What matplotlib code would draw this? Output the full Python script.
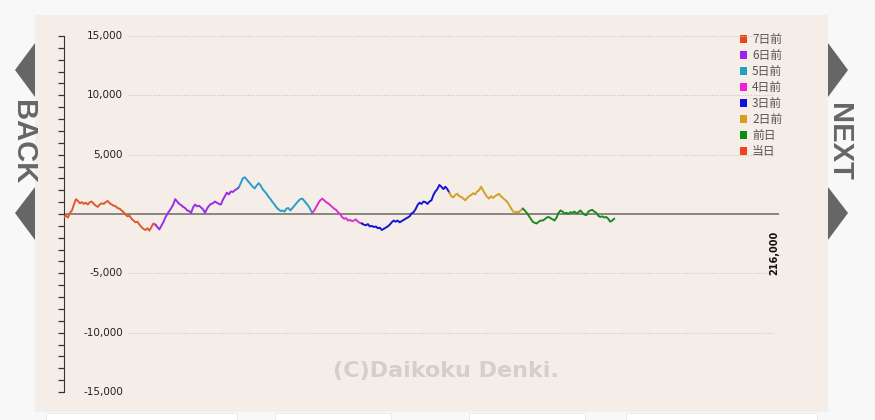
import numpy as np
import matplotlib.pyplot as plt
from matplotlib.patches import Polygon, Rectangle
from matplotlib.transforms import blended_transform_factory

# coin difference, sampled every 600 games (each day starts where the previous ends)
day_labels = ['7日前', '6日前', '5日前', '4日前', '3日前', '2日前', '前日', '当日']
day_colors = ['#e2582c', '#9a2ee6', '#2a9ec4', '#e02ccc', '#1414d2', '#d2a022', '#1c8a22', '#e8401c']
legend_colors = ['#ec4418', '#a020f0', '#20a0c8', '#f020d8', '#1010e0', '#d8a018', '#108a10', '#f04418']

coins_7 = [-250, -150, -300, 100, 300, 800, 1250, 1100, 900, 1000, 850, 950, 800, 1000, 1050, 850,
           700, 600, 800, 900, 850, 1000, 1100, 900, 800, 700, 650, 500, 450, 300, 150, -50, -200,
           -150, -400, -550, -700, -650, -900, -1100, -1250, -1350, -1200, -1400, -1100, -800, -900]
coins_6 = [-900, -1100, -1300, -1000, -700, -300, 0, 250, 500, 800, 1250, 1050, 850, 750, 600, 500,
           300, 250, 100, 550, 800, 650, 700, 550, 400, 100, 450, 700, 850, 900, 1050, 950, 850, 800,
           1200, 1500, 1800, 1650, 1900, 1850, 2000, 2100, 2250]
coins_5 = [2250, 2600, 3000, 3100, 2900, 2700, 2500, 2300, 2150, 2400, 2600, 2400, 2100, 1900, 1700,
           1450, 1250, 1000, 800, 550, 400, 250, 300, 200, 450, 500, 300, 500, 700, 900, 1100, 1250,
           1300, 1100, 900, 700, 400, 100]
coins_4 = [100, 300, 600, 900, 1150, 1300, 1150, 1000, 900, 750, 600, 450, 350, 150, 0, -250, -400,
           -350, -550, -500, -600, -550, -450, -650, -750, -800]
coins_3 = [-800, -900, -950, -850, -1050, -1000, -1100, -1050, -1200, -1150, -1350, -1250, -1150,
           -1050, -900, -700, -550, -650, -550, -700, -600, -500, -400, -300, -200, 50, 150, 400, 750,
           950, 850, 1050, 1000, 850, 1050, 1150, 1600, 1900, 2100, 2450, 2300, 2100, 2300, 2100, 1800]
coins_2 = [1800, 1500, 1400, 1600, 1700, 1500, 1450, 1300, 1150, 1350, 1500, 1600, 1750, 1650, 1900,
           2000, 2300, 2000, 1700, 1450, 1300, 1500, 1350, 1500, 1600, 1700, 1500, 1350, 1200, 1050,
           800, 500, 250, 100, 200, 150, 300, 450]
coins_1 = [450, 300, 100, -150, -400, -650, -750, -800, -650, -550, -550, -450, -300, -250, -350,
           -450, -550, -300, 100, 300, 200, 50, 100, 0, 150, 100, 200, 50, 150, 300, 100, -50, -100,
           200, 300, 350, 200, 100, -150, -250, -200, -300, -250, -400, -650, -550, -400]
coins_0 = []
sample_step = 600
x_max = 216000

y_ticks = [15000, 10000, 5000, -5000, -10000, -15000]
y_tick_labels = ['15,000', '10,000', '5,000', '-5,000', '-10,000', '-15,000']

W, H = 875, 420
fig = plt.figure(figsize=(W / 100, H / 100), dpi=100)
fig.patch.set_facecolor('#f8f8f8')

# beige panel + tabs at the bottom
fig.patches.append(Rectangle((35 / W, 1 - 412 / H), (828 - 35) / W, (412 - 15) / H,
                             transform=fig.transFigure, facecolor='#f5eee8', edgecolor='none', zorder=-10))
for x0, x1 in [(46, 237), (275, 391), (469, 585), (626, 817)]:
    fig.patches.append(Rectangle((x0 / W, 0), (x1 - x0) / W, 7 / H, transform=fig.transFigure,
                                 facecolor='white', edgecolor='#e8e8e8', lw=0.6, zorder=-10))

# BACK / NEXT arrows
nav_gray = '#666666'
for tri in [[(35, 43), (15, 70), (35, 97)], [(35, 187), (15, 213), (35, 240)],
            [(828, 43), (848, 70), (828, 97)], [(828, 187), (848, 213), (828, 240)]]:
    fig.patches.append(Polygon([(px / W, 1 - py / H) for px, py in tri], closed=True,
                               transform=fig.transFigure, facecolor=nav_gray, edgecolor='none',
                               zorder=-10))
fig.text(23 / W, 1 - 142 / H, 'BACK', rotation=-90, ha='center', va='center', fontsize=21,
         color=nav_gray, family='Liberation Sans', fontweight='bold')
fig.text(839 / W, 1 - 142 / H, 'NEXT', rotation=-90, ha='center', va='center', fontsize=21,
         color=nav_gray, family='Liberation Sans', fontweight='bold')

ax = fig.add_axes([64 / W, 1 - 392 / H, (779 - 64) / W, (392 - 36) / H])
ax.set_facecolor('none')
ax.set_zorder(5)
ax.set_xlim(0, x_max)
ax.set_ylim(-15000, 15000)
for s in ['top', 'right', 'bottom']:
    ax.spines[s].set_visible(False)
ax.spines['left'].set_color('#333333')
ax.set_xticks([])
ax.set_yticks(np.arange(-15000, 15001, 1000))
ax.tick_params(axis='y', direction='out', length=4, width=0.9, color='#333333', labelleft=False)

# grid + labels inside the plot
trans = blended_transform_factory(ax.transAxes, ax.transData)
for v, lab in zip(y_ticks, y_tick_labels):
    ax.plot([0.09, 0.992], [v, v], transform=trans, color='#c8c4c0', lw=0.8, ls=(0, (1, 1.5)))
    ax.text(0.0825, v, lab, transform=trans, ha='right', va='center', fontsize=7.5, color='#222222')
ax.axhline(0, color='#8a8580', lw=1.4, zorder=1)

# watermark
ax.text(0.534, 0.06, '(C)Daikoku Denki.', transform=ax.transAxes, ha='center', va='center',
        fontsize=16, color='#d6cec9', family='DejaVu Sans', fontweight='bold')

# day segments
segments = [coins_7, coins_6, coins_5, coins_4, coins_3, coins_2, coins_1, coins_0]
start = 0
for seg, c in zip(segments, day_colors):
    if len(seg) == 0:
        continue
    xs = (start + np.arange(len(seg))) * sample_step
    ax.plot(xs, seg, color=c, lw=1.4, zorder=3)
    start += len(seg) - 1

ax.text(x_max, -3300, '{:,}'.format(x_max), rotation=90, ha='right', va='center', fontsize=7,
        color='#111111', fontweight='bold')

# legend
for i, (lab, c) in enumerate(zip(day_labels, legend_colors)):
    y = 1 - (39 + 16 * i) / H
    fig.patches.append(Rectangle((740 / W, y - 3.5 / H), 7 / W, 7 / H, transform=fig.transFigure,
                                 facecolor=c, edgecolor='none'))
    fig.text(752 / W, y, lab, ha='left', va='center', fontsize=8.5, color='#555555',
             family=['Noto Sans CJK JP', 'DejaVu Sans'])

fig.savefig('out.png', dpi=100, facecolor=fig.get_facecolor())
